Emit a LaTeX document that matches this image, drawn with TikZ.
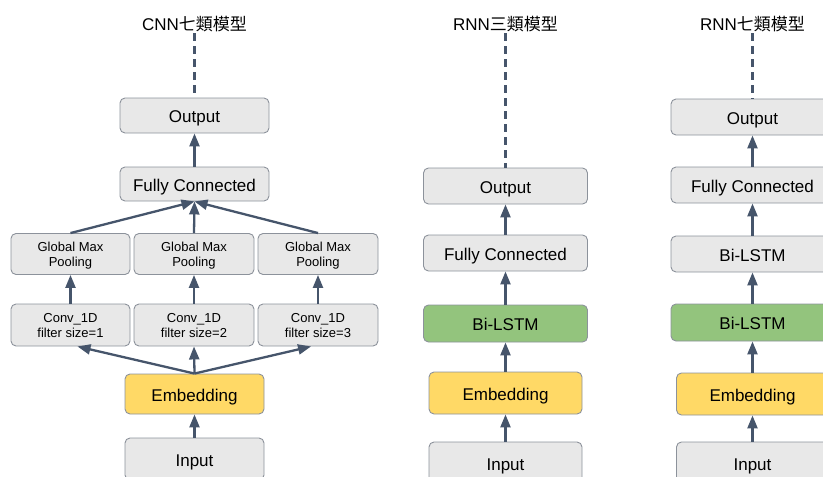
\documentclass[tikz,border=0pt]{standalone}
\usepackage{fontspec}
\setmainfont{Liberation Sans}
\newfontfamily\cjk{Noto Sans CJK TC}
\usetikzlibrary{arrows.meta}
\definecolor{boxgray}{HTML}{E8E8E8}
\definecolor{boxline}{HTML}{8C929B}
\definecolor{embyellow}{HTML}{FFD966}
\definecolor{lstmgreen}{HTML}{93C47D}
\definecolor{arrowcol}{HTML}{46556B}
\newcommand{\zh}[1]{{\cjk #1}}
\newcommand{\twolines}[2]{\raisebox{-2pt}[\height][\depth]{\begin{tabular}{@{}c@{}}#1\\#2\end{tabular}}}

\begin{document}
\begin{tikzpicture}[x=1pt,y=-1pt,
    layer/.style={draw=boxline, line width=0.9pt, fill=boxgray, rounded corners=5pt,
      inner sep=0pt, text height=14pt, text depth=0pt, font=\fontsize{17}{20}\selectfont},
    small/.style={draw=boxline, line width=0.9pt, fill=boxgray, rounded corners=5pt,
      inner sep=0pt, font=\fontsize{13}{15}\selectfont},
    emb/.style={layer, fill=embyellow},
    lstm/.style={layer, fill=lstmgreen},
    title/.style={font=\fontsize{17}{20}\selectfont, inner sep=1pt},
    flow/.style={draw=arrowcol, line width=2.3pt, -{Triangle[width=10pt,length=13pt]}},
    outline/.style={draw=arrowcol, line width=2.2pt, dash pattern=on 8pt off 5pt}]
    \useasboundingbox (0,0) rectangle (823,477);
    \clip (0,0) rectangle (823,477);

    % CNN
    \node[title] (t1) at (194.5,24) {CNN\zh{七類模型}};
    \node[layer, minimum width=149pt, minimum height=35pt] (out1) at (194.5,115.5) {Output};
    \node[layer, minimum width=149pt, minimum height=34pt] (fc1) at (194.5,184) {Fully Connected};
    \node[small, minimum width=119pt, minimum height=41pt] (gmp1) at (70.5,254) {\twolines{Global Max}{Pooling}};
    \node[small, minimum width=120pt, minimum height=41pt] (gmp2) at (194,254) {\twolines{Global Max}{Pooling}};
    \node[small, minimum width=120pt, minimum height=41pt] (gmp3) at (318,254) {\twolines{Global Max}{Pooling}};
    \node[small, minimum width=119pt, minimum height=42pt] (conv1) at (70.5,325) {\twolines{Conv\_1D}{filter size=1}};
    \node[small, minimum width=120pt, minimum height=42pt] (conv2) at (194,325) {\twolines{Conv\_1D}{filter size=2}};
    \node[small, minimum width=120pt, minimum height=42pt] (conv3) at (318,325) {\twolines{Conv\_1D}{filter size=3}};
    \node[emb, minimum width=139pt, minimum height=40pt] (emb1) at (194.5,394) {Embedding};
    \node[layer, minimum width=139pt, minimum height=42pt] (in1) at (194.5,459) {Input};

    \draw[outline] (t1.south) -- (out1.north);
    \draw[flow] (fc1) -- (out1);
    \draw[flow] (gmp1.north) -- (fc1.south);
    \draw[flow] (gmp2.north) -- (fc1.south);
    \draw[flow] (gmp3.north) -- (fc1.south);
    \draw[flow] (conv1) -- (gmp1);
    \draw[flow] (conv2) -- (gmp2);
    \draw[flow] (conv3) -- (gmp3);
    \draw[flow] (emb1.north) -- (conv1.-72);
    \draw[flow] (emb1.north) -- (conv2.south);
    \draw[flow] (emb1.north) -- (conv3.-108);
    \draw[flow] (in1) -- (emb1);

    % RNN 3
    \node[title] (t2) at (505.5,24) {RNN\zh{三類模型}};
    \node[layer, minimum width=164pt, minimum height=36pt] (out2) at (505.5,186) {Output};
    \node[layer, minimum width=164pt, minimum height=36pt] (fc2) at (505.5,253) {Fully Connected};
    \node[lstm, minimum width=164pt, minimum height=37pt] (lstm2) at (505.5,323.5) {Bi-LSTM};
    \node[emb, minimum width=153pt, minimum height=42pt] (emb2) at (505.5,393) {Embedding};
    \node[layer, minimum width=153pt, minimum height=42pt] (in2) at (505.5,463) {Input};

    \draw[outline] (t2.south) -- (out2.north);
    \draw[flow] (fc2) -- (out2);
    \draw[flow] (lstm2) -- (fc2);
    \draw[flow] (emb2) -- (lstm2);
    \draw[flow] (in2) -- (emb2);

    % RNN 7
    \node[title] (t3) at (752.5,24) {RNN\zh{七類模型}};
    \node[layer, minimum width=163pt, minimum height=36pt] (out3) at (752.5,117) {Output};
    \node[layer, minimum width=163pt, minimum height=36pt] (fc3) at (752.5,185) {Fully Connected};
    \node[layer, minimum width=163pt, minimum height=36pt] (lstm3a) at (752.5,254) {Bi-LSTM};
    \node[lstm, minimum width=163pt, minimum height=37pt] (lstm3b) at (752.5,322.5) {Bi-LSTM};
    \node[emb, minimum width=152pt, minimum height=42pt] (emb3) at (752.5,394) {Embedding};
    \node[layer, minimum width=152pt, minimum height=42pt] (in3) at (752.5,463) {Input};

    \draw[outline] (t3.south) -- (out3.north);
    \draw[flow] (fc3) -- (out3);
    \draw[flow] (lstm3a) -- (fc3);
    \draw[flow] (lstm3b) -- (lstm3a);
    \draw[flow] (emb3) -- (lstm3b);
    \draw[flow] (in3) -- (emb3);
\end{tikzpicture}
\end{document}
